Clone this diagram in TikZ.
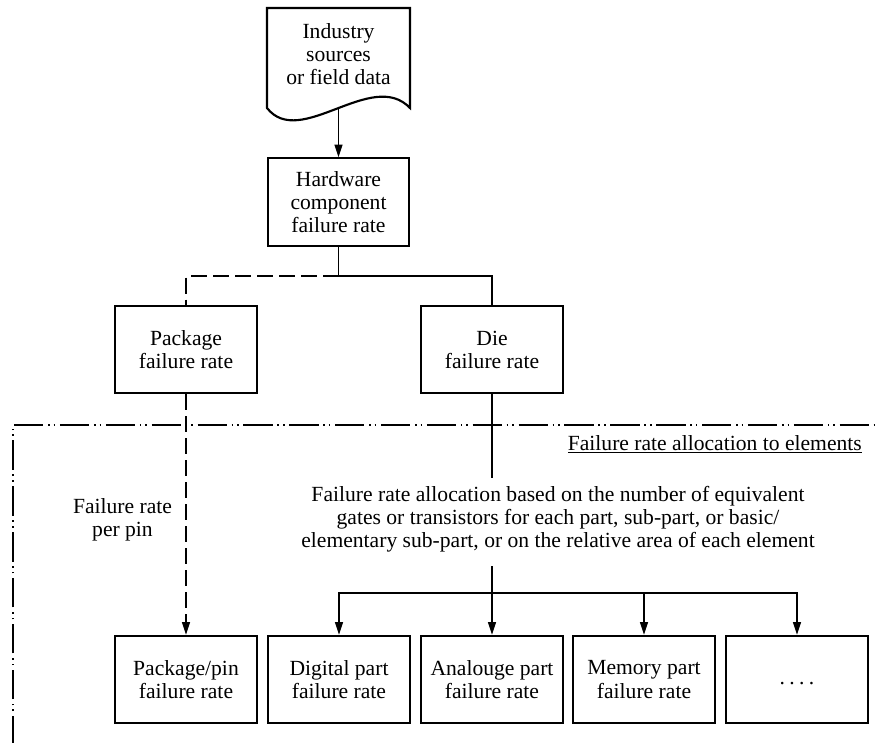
\documentclass[tikz,border=0pt]{standalone}
\usepackage{fontspec}
\setmainfont{Liberation Serif}
\usetikzlibrary{arrows.meta}
\begin{document}
\begin{tikzpicture}[x=0.75pt,y=-0.75pt,
  font=\fontsize{16.2pt}{17.3pt}\selectfont,
  box/.style={draw, line width=1.6pt, minimum width=106pt, minimum height=65.5pt,
              align=center, inner sep=0pt},
  txt/.style={align=center, inner sep=0pt},
  wire/.style={line width=0.9pt},
  arrowline/.style={wire, -{Triangle[length=9.5pt,width=6pt]}},
  pkgdash/.style={wire, dash pattern=on 12pt off 4.5pt},
  zone/.style={line width=0.9pt,
               dash pattern=on 22pt off 3.5pt on 1.2pt off 3pt on 1.2pt off 3.5pt}]

\useasboundingbox (0,0) rectangle (877,742);

% data source (document symbol)
\draw[line width=1.6pt, line join=miter]
  (410,108) .. controls (372,68) and (300,150) .. (267,108)
  -- (267,8) -- (410,8) -- cycle;
\node[txt] (src) at (338.5,54) {Industry\\sources\\or field data};
\coordinate (srcbot) at (338.5,109);

% component level
\node[box] (hw) at (338.5,202) {Hardware\\component\\failure rate};
\draw[arrowline] (srcbot) -- (hw.north);

\node[box] (pkg) at (186,349.5) {Package\\failure rate};
\node[box] (die) at (492,349.5) {Die\\failure rate};

\coordinate (split) at (338.5,276);
\draw[wire] (hw.south) -- (split);
\draw[pkgdash] (split) -| (pkg.north);
\draw[wire] (split) -| (die.north);

% allocation zone boundary
\coordinate (zl) at (13,745);
\coordinate (zc) at (13,425);
\coordinate (zr) at (880,425);
\draw[zone] (zl) -- (zc) -- (zr);
\node[txt, anchor=base east] (zonelabel) at (862,450)
  {\underline{Failure rate allocation to elements}};

% element level
\node[box] (pp)   at (186,679.5) {Package/pin\\failure rate};
\node[box] (dig)  at (339,679.5) {Digital part\\failure rate};
\node[box] (ana)  at (492,679.5) {Analouge part\\failure rate};
\node[box] (mem)  at (644,679.5) {Memory part\\failure rate};
\node[box] (more) at (797,679.5)
  {\strut.\hspace{0.2em}.\hspace{0.2em}.\hspace{0.2em}.};

% package branch
\draw[pkgdash, -{Triangle[length=9.5pt,width=6pt]}] (pkg.south) -- (pp.north);
\node[txt] (perpin) at (122.5,520) {Failure rate\\per pin};

% die branch
\coordinate (dieend) at (492,478);
\draw[wire] (die.south) -- (dieend);
\node[txt] (alloc) at (558,519)
  {Failure rate allocation based on the number of equivalent\\
   gates or transistors for each part, sub-part, or basic/\\
   elementary sub-part, or on the relative area of each element};

\coordinate (busin) at (492,566);
\coordinate (bus) at (492,593);
\draw[arrowline] (busin) -- (ana.north);
\draw[arrowline] (bus) -| (dig.north);
\draw[arrowline] (bus) -| (mem.north);
\draw[arrowline] (bus) -| (more.north);

\end{tikzpicture}
\end{document}
